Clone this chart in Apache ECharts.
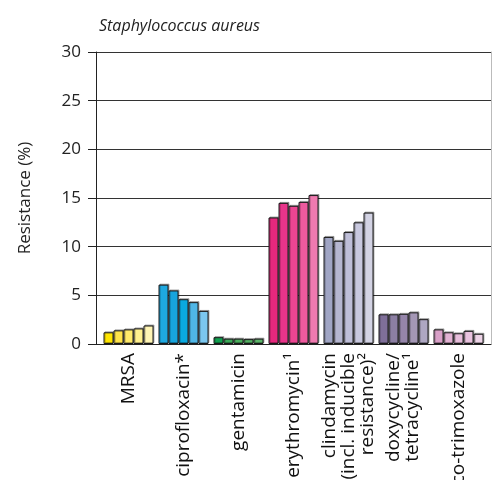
<!DOCTYPE html>
<html>
<head>
<meta charset="utf-8">
<script src="https://cdn.jsdelivr.net/npm/echarts@6/dist/echarts.min.js"></script>
<style>
  html, body { margin: 0; padding: 0; background: #fff; }
  #chart { width: 492px; height: 480px; }
</style>
</head>
<body>
<div id="chart"></div>
<script>
// categories (antibiotics)
var categories = [
  'MRSA',
  'ciprofloxacin*',
  'gentamicin',
  'erythromycin\u00b9',
  'clindamycin\n(incl. inducible\nresistance)\u00b2',
  'doxycycline/\ntetracycline\u00b9',
  'co-trimoxazole'
];

// resistance (%) per antibiotic, five consecutive periods
var mrsa          = [1.2, 1.4, 1.5, 1.6, 1.9];
var ciprofloxacin = [6.1, 5.5, 4.6, 4.3, 3.4];
var gentamicin    = [0.7, 0.55, 0.55, 0.5, 0.55];
var erythromycin  = [13.0, 14.5, 14.2, 14.6, 15.3];
var clindamycin   = [11.0, 10.6, 11.5, 12.5, 13.5];
var doxycycline   = [3.05, 3.05, 3.1, 3.25, 2.55];
var cotrimoxazole = [1.5, 1.2, 1.1, 1.35, 1.05];

var yTicks = [0, 5, 10, 15, 20, 25, 30];

var values = [mrsa, ciprofloxacin, gentamicin, erythromycin, clindamycin, doxycycline, cotrimoxazole];

// colour shades per antibiotic (dark -> light)
var palette = [
  ['#ffe500', '#ffe44a', '#ffea6a', '#fff08e', '#fff5b5'],
  ['#1ea8e0', '#17a4dd', '#0aa9e0', '#4fb6e6', '#7bc7ef'],
  ['#12a050', '#3daa5a', '#4caf5e', '#55b164', '#5db56a'],
  ['#e6287d', '#e8348a', '#ec4592', '#ee5a9e', '#f07ab0'],
  ['#a0a5c4', '#b5b6d0', '#bebed8', '#c8c8df', '#d3d3e4'],
  ['#7f6f99', '#8c7fa3', '#9585aa', '#a497b5', '#aea7c2'],
  ['#d9a0c8', '#e2b2d3', '#e7bedb', '#e9c3df', '#edd4e7']
];

var chart = echarts.init(document.getElementById('chart'));
var font = 'Open Sans';

var series = [];
for (var i = 0; i < 5; i++) {
  var data = [];
  for (var c = 0; c < categories.length; c++) {
    data.push({
      value: values[c][i],
      itemStyle: { color: palette[c][i] }
    });
  }
  series.push({
    name: 'period ' + (i + 1),
    type: 'bar',
    xAxisIndex: 1,
    yAxisIndex: 2,
    barWidth: 10,
    barGap: '0%',
    itemStyle: {
      borderColor: '#1a1a1a',
      borderWidth: 1,
      shadowColor: 'rgba(0,0,0,0.3)',
      shadowOffsetX: 1,
      shadowOffsetY: -1
    },
    data: data
  });
}

var option = {
  animation: false,
  title: {
    text: 'Staphylococcus aureus',
    left: 94,
    top: 13,
    textStyle: { fontFamily: font, fontStyle: 'italic', fontWeight: 'normal', fontSize: 16, color: '#222' }
  },
  grid: [
    { left: 96, right: 1, top: 52, bottom: 136, outerBoundsMode: 'none' },
    { left: 101, right: 6, top: 52, bottom: 136, outerBoundsMode: 'none' }
  ],
  xAxis: [
    {
      gridIndex: 0, type: 'value', min: 0, max: 1,
      axisLine: { show: true, lineStyle: { color: '#222', width: 1 } },
      axisTick: { show: false }, axisLabel: { show: false }, splitLine: { show: false }
    },
    {
      gridIndex: 1, type: 'category', data: categories,
      axisLine: { show: false }, axisTick: { show: false },
      axisLabel: {
        rotate: 90, margin: 9, interval: 0,
        fontFamily: font, fontSize: 19, lineHeight: 19, color: '#111'
      }
    }
  ],
  yAxis: [
    {
      gridIndex: 0, type: 'value', min: 0, max: 30, interval: 5,
      name: 'Resistance (%)', nameLocation: 'middle', nameGap: 62,
      nameTextStyle: { fontFamily: font, fontSize: 17, color: '#222' },
      axisLine: { show: true, lineStyle: { color: '#222', width: 1 } },
      axisTick: { show: true, length: 8, lineStyle: { color: '#222' } },
      axisLabel: {
        margin: 15, fontFamily: font, fontSize: 17, color: '#222',
        formatter: function (v) { return yTicks.indexOf(v) >= 0 ? String(v) : ''; }
      },
      splitLine: { show: true, lineStyle: { color: '#333', width: 1 } }
    },
    {
      gridIndex: 0, type: 'value', min: 0, max: 30, position: 'right',
      axisLine: { show: true, lineStyle: { color: '#bbb', width: 1 } },
      axisTick: { show: false }, axisLabel: { show: false }, splitLine: { show: false }
    },
    {
      gridIndex: 1, type: 'value', min: 0, max: 30, show: false
    }
  ],
  series: series
};

chart.setOption(option);
</script>
</body>
</html>
